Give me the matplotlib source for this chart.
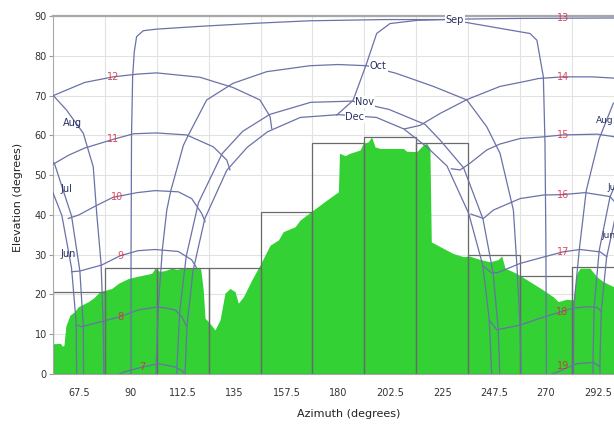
import matplotlib
matplotlib.use("Agg")
import matplotlib.pyplot as plt

# ---------------- data ----------------
# horizon profile (azimuth deg, elevation deg)
horizon_az = [56.25, 59.5, 60.3, 61.0, 61.8, 63.6, 65.5, 67.2, 71.6, 74.0, 76.6, 81.7, 84.6, 88.9,
              93.2, 99.0, 100.5, 102.5, 104.8, 107.7, 110.0, 113.5, 117.0, 120.0, 120.4, 121.4,
              122.2, 123.6, 126.5, 128.7, 130.8, 133.0, 135.2, 136.6, 138.8, 142.4, 146.0, 150.4,
              154.0, 156.1, 161.2, 163.4, 169.1, 174.9, 180.0, 180.5, 182.9, 185.0, 189.4, 190.8,
              193.0, 194.4, 195.9, 198.1, 208.2, 209.6, 214.0, 216.8, 218.3, 219.7, 220.3, 225.5,
              229.8, 234.2, 237.1, 241.4, 245.8, 249.4, 250.8, 252.3, 257.3, 263.1, 268.9, 273.2,
              275.4, 279.0, 281.9, 283.4, 284.8, 289.1, 292.0, 294.9, 297.8, 299.53]
horizon_el = [7.6, 7.7, 7.0, 7.2, 12.0, 14.8, 15.6, 16.9, 18.2, 19.2, 20.7, 21.5, 22.8, 24.0,
              24.6, 25.3, 26.6, 25.8, 26.0, 26.6, 26.3, 26.8, 26.5, 26.8, 26.0, 21.1,
              14.0, 13.2, 11.1, 13.6, 20.3, 21.5, 20.7, 17.8, 19.4, 23.6, 27.4, 32.4,
              33.7, 35.8, 37.0, 38.7, 41.2, 43.7, 45.8, 55.5, 54.9, 55.5, 56.3, 58.0,
              58.4, 59.6, 57.1, 56.7, 56.7, 56.0, 55.9, 57.6, 58.0, 56.7, 33.2, 31.6,
              30.3, 29.5, 29.6, 28.8, 28.2, 28.8, 29.7, 26.6, 25.3, 23.2, 21.1, 19.4,
              18.2, 18.8, 18.6, 25.3, 26.6, 26.6, 24.5, 23.2, 22.4, 21.9]

# 22.5 degree sector maxima (box outlines)
sector_centers = [67.5, 90, 112.5, 135, 157.5, 180, 202.5, 225, 247.5, 270, 292.5]
sector_heights = [20.5, 26.7, 26.7, 26.7, 40.8, 58.0, 59.6, 58.0, 29.9, 24.6, 26.8]

# x tick labels
tick_labels = ["67.5", "90", "112.5", "135", "157.5", "180", "202.5", "225", "247.5", "270", "292.5"]

# sun paths: month curves (az, el)
jun_am = [(66.5, 0), (66.3, 12.9), (64.3, 26.6), (60.1, 39.85), (51.7, 52.3)]
jun_pm = [(293.5, 0), (293.4, 1.9), (294.0, 15.7), (296.3, 29.25), (301.2, 42.4)]
jul_am = [(69.5, 0), (69.4, 12.0), (67.9, 25.9), (64.3, 39.7), (56.95, 52.8), (50.0, 58.0)]
jul_pm = [(290.5, 0), (290.4, 3.0), (290.95, 17.1), (293.1, 31.0), (297.8, 44.55), (307.5, 57.3)]
aug_am = [(78.3, 0), (78.0, 13.0), (77.1, 27.7), (75.2, 40.4), (73.7, 52.1), (69.4, 60.5),
          (62.2, 66.3), (56.4, 70.0), (50.0, 73.0)]
aug_pm = [(282.0, 0), (282.0, 2.2), (282.1, 16.9), (284.5, 31.4), (287.5, 46.1), (293.0, 59.0),
          (299.2, 68.0), (310.0, 73.3)]
sep_path = [(90.1, 0), (90.1, 30), (90.3, 60), (90.8, 75), (91.5, 81), (92.5, 84.8), (95.4, 86.3),
            (101.2, 86.7), (120, 87.4), (145, 88.2), (167.7, 88.8), (200, 89.1), (230.6, 89.1),
            (234.2, 88.5), (263.1, 85.6), (266.1, 83.9), (268.9, 74.7), (269.6, 58), (270.0, 33),
            (270.2, 0)]
oct_path = [(101.0, 0), (101.0, 2.2), (101.9, 16.9), (103.7, 31.5), (105.6, 41.2), (107.3, 46.0),
            (112.8, 57.5), (114.9, 60.0), (122.9, 68.9), (134.4, 73.1), (148.9, 76.0),
            (167.7, 77.5), (180, 77.8), (192.4, 77.5), (205, 75.6), (221.2, 72.3), (235.7, 68.9),
            (244.3, 62.2), (250.1, 55.5), (255.9, 41.2), (257.5, 26.6), (258.8, 12.0), (259.2, 0)]
nov_path = [(110.0, 0), (110.0, 1.65), (111.2, 15.7), (114.0, 29.5), (119.3, 43.0), (129.6, 55.4),
            (138.5, 61.0), (150.2, 65.25), (168.0, 68.3), (186.0, 68.6), (202.0, 66.5),
            (217.6, 62.75), (224.1, 58.8), (234.3, 51.85), (242.7, 39.0), (247.1, 25.4),
            (249.3, 11.5), (250.0, 0)]
dec_path = [(113.5, 0), (114.4, 12.5), (117.0, 26.0), (122.1, 39.1), (131.6, 51.2), (140.5, 57.0),
            (149.3, 60.9), (163.5, 64.5), (180.0, 65.2), (196.5, 64.5), (208.4, 61.6),
            (218.3, 57.1), (227.1, 52.3), (236.5, 40.4), (242.6, 27.4), (245.4, 13.9), (246.5, 0)]

# sun paths: hour lines (az, el)
h07 = [(78.4, -1.7), (87.5, 0.6), (94.7, 1.7), (101.9, 2.6), (109.1, 1.8), (112.8, 0.6), (113.5, -1.2)]
h08 = [(66.3, 12.3), (68.7, 11.9), (77.4, 13.2), (85.3, 14.4), (93.2, 16.1), (101.9, 16.9),
       (109.2, 16.1), (112.1, 14.4), (114.2, 11.9)]
h09 = [(64.3, 25.7), (68.0, 25.9), (77.4, 27.4), (85.3, 29.7), (93.1, 31.0), (100.5, 31.3),
       (110.6, 30.8), (116.4, 28.7), (118.6, 26.6)]
h10 = [(62.9, 39.1), (67.5, 40.0), (73.9, 42.0), (82.2, 44.4), (92.8, 45.6), (100.5, 46.1),
       (110.6, 45.8), (116.4, 44.1), (120.7, 40.4), (122.2, 38.3)]
h11 = [(51.7, 52.3), (56.5, 52.8), (63.0, 55.0), (70.0, 56.8), (82.4, 59.0), (91.2, 60.4),
       (101.2, 60.6), (114.2, 60.1), (125.8, 57.1), (131.6, 53.8), (133.0, 51.3)]
h12 = [(34.6, 62.7), (42.6, 63.6), (56.4, 70.0), (70.0, 73.3), (82.4, 74.7), (93.0, 75.4),
       (101.2, 75.7), (120.0, 74.6), (134.4, 72.0), (146.0, 68.9), (150.4, 64.7), (151.1, 61.7)]
h13 = [(179.3, 65.1), (186.4, 68.8), (192.2, 78.0), (196.6, 85.6), (202.4, 88.1), (214.0, 88.9),
       (230.6, 89.2), (260.0, 89.4), (299.5, 89.5), (320.0, 89.5)]
h14 = [(208.6, 61.6), (215.4, 62.5), (224.1, 65.5), (235.8, 69.0), (250.1, 72.3), (258.8, 73.3),
       (267.0, 74.3), (277.4, 74.7), (290.0, 74.7), (299.1, 74.4), (310.0, 73.3)]
h15 = [(229.0, 51.6), (232.8, 51.3), (237.1, 53.0), (244.3, 56.3), (250.0, 57.8), (258.8, 59.2),
       (268.5, 59.6), (277.4, 60.1), (292.2, 60.3), (299.1, 59.7), (307.5, 57.3), (310.9, 54.6)]
h16 = [(237.5, 40.2), (242.9, 39.1), (247.2, 41.2), (258.8, 44.1), (269.0, 45.0), (277.4, 45.1),
       (287.0, 45.6), (297.8, 44.6), (301.2, 42.4)]
h17 = [(242.6, 27.2), (246.5, 25.4), (249.2, 25.5), (258.8, 27.8), (269.6, 29.5), (277.4, 30.7),
       (284.8, 31.3), (293.5, 30.7), (296.4, 29.5)]
h18 = [(245.4, 13.6), (248.7, 11.1), (258.8, 12.3), (267.4, 14.0), (276.8, 15.7), (282.1, 16.6),
       (287.7, 16.9), (292.0, 16.8), (294.2, 15.7)]
h19 = [(270.0, -0.6), (275.4, 0.6), (283.4, 2.6), (290.6, 2.9), (293.5, 1.8)]

# labels
hour_names = ["7", "8", "9", "10", "11", "12", "13", "14", "15", "16", "17", "18", "19"]
hour_label_az = [95.0, 85.3, 85.3, 83.9, 82.4, 82.4, 277.5, 277.5, 277.5, 277.5, 277.5, 276.8, 277.5]
hour_label_el = [1.7, 14.4, 29.7, 44.4, 59.0, 74.7, 89.4, 74.7, 60.1, 45.0, 30.7, 15.7, 2.0]

mid_month_names = ["Sep", "Oct", "Nov", "Dec"]
mid_month_az = [230.6, 197.3, 191.5, 187.2]
mid_month_el = [89.1, 77.5, 68.4, 64.7]

left_month_names = ["Aug", "Jul", "Jun"]
left_month_az = [60.7, 59.3, 59.3]
left_month_el = [63.0, 46.4, 30.2]

right_month_names = ["Aug", "Jul", "Jun"]
right_month_az = [299.4, 296.6, 294.1]
right_month_el = [63.8, 47.0, 34.9]
right_month_align = ["right", "left", "left"]

# ---------------- figure ----------------
W, H = 614, 425
fig = plt.figure(figsize=(W / 100, H / 100), dpi=100)
fig.patch.set_facecolor("white")
ax = fig.add_axes([53 / W, 1 - 374 / H, (W - 53) / W, 358 / H])

ax.set_xlim(56.25, 299.53)
ax.set_ylim(0, 90)
ax.set_axisbelow(True)

# grid
ax.set_yticks(range(0, 91, 10))
ax.set_xticks([67.5 + 22.5 * i for i in range(len(tick_labels))])
ax.set_xticklabels(tick_labels)
ax.set_xticks([78.75 + 22.5 * i for i in range(10)], minor=True)
ax.grid(which="major", axis="y", color="#e2e2e2", linewidth=0.8)
ax.grid(which="minor", axis="x", color="#e2e2e2", linewidth=0.8)
ax.tick_params(axis="x", which="both", length=0, pad=10, labelsize=7, labelcolor="#333333")
ax.tick_params(axis="y", length=3, width=0.8, color="#999999", pad=1.5, labelsize=7,
               labelcolor="#333333")

ax.spines["right"].set_visible(False)
ax.spines["top"].set_color("#a8a8a8")
ax.spines["top"].set_linewidth(1.6)
ax.spines["left"].set_color("#a8a8a8")
ax.spines["bottom"].set_color("#a8a8a8")

# horizon fill
ax.fill_between(horizon_az, 0, horizon_el, color="#33d133", linewidth=0, zorder=1)

# sector boxes
ax.bar(sector_centers, sector_heights, width=22.5, fill=False, edgecolor="#6a6a6a",
       linewidth=0.9, zorder=2)

# sun path lines
line_color = "#6a72a8"
all_paths = [jun_am, jun_pm, jul_am, jul_pm, aug_am, aug_pm, sep_path, oct_path, nov_path,
             dec_path, h07, h08, h09, h10, h11, h12, h13, h14, h15, h16, h17, h18, h19]
for path in all_paths:
    xs = [p[0] for p in path]
    ys = [p[1] for p in path]
    ax.plot(xs, ys, color=line_color, linewidth=0.9, zorder=3, solid_joinstyle="round")

# hour labels
for name, x, y in zip(hour_names, hour_label_az, hour_label_el):
    ax.text(x, y, name, color="#e0283c", alpha=0.85, fontsize=7, ha="center", va="center",
            zorder=5)

# month labels
for name, x, y in zip(mid_month_names, mid_month_az, mid_month_el):
    ax.text(x, y, name, color="#26305e", fontsize=7, ha="center", va="center", zorder=5,
            bbox=dict(facecolor="white", edgecolor="none", pad=0.6))
for name, x, y in zip(left_month_names, left_month_az, left_month_el):
    ax.text(x, y, name, color="#26305e", fontsize=7, ha="left", va="center", zorder=5)
for name, x, y, al in zip(right_month_names, right_month_az, right_month_el, right_month_align):
    ax.text(x, y, name, color="#26305e", fontsize=6.5, ha=al, va="center", zorder=5)

# axis titles
fig.text(349 / W, 1 - 414 / H, "Azimuth (degrees)", ha="center", va="center", fontsize=8,
         color="#222222")
fig.text(18 / W, 1 - 197 / H, "Elevation (degrees)", ha="center", va="center", fontsize=8,
         rotation=90, color="#222222")

fig.savefig("out.png", dpi=100)
